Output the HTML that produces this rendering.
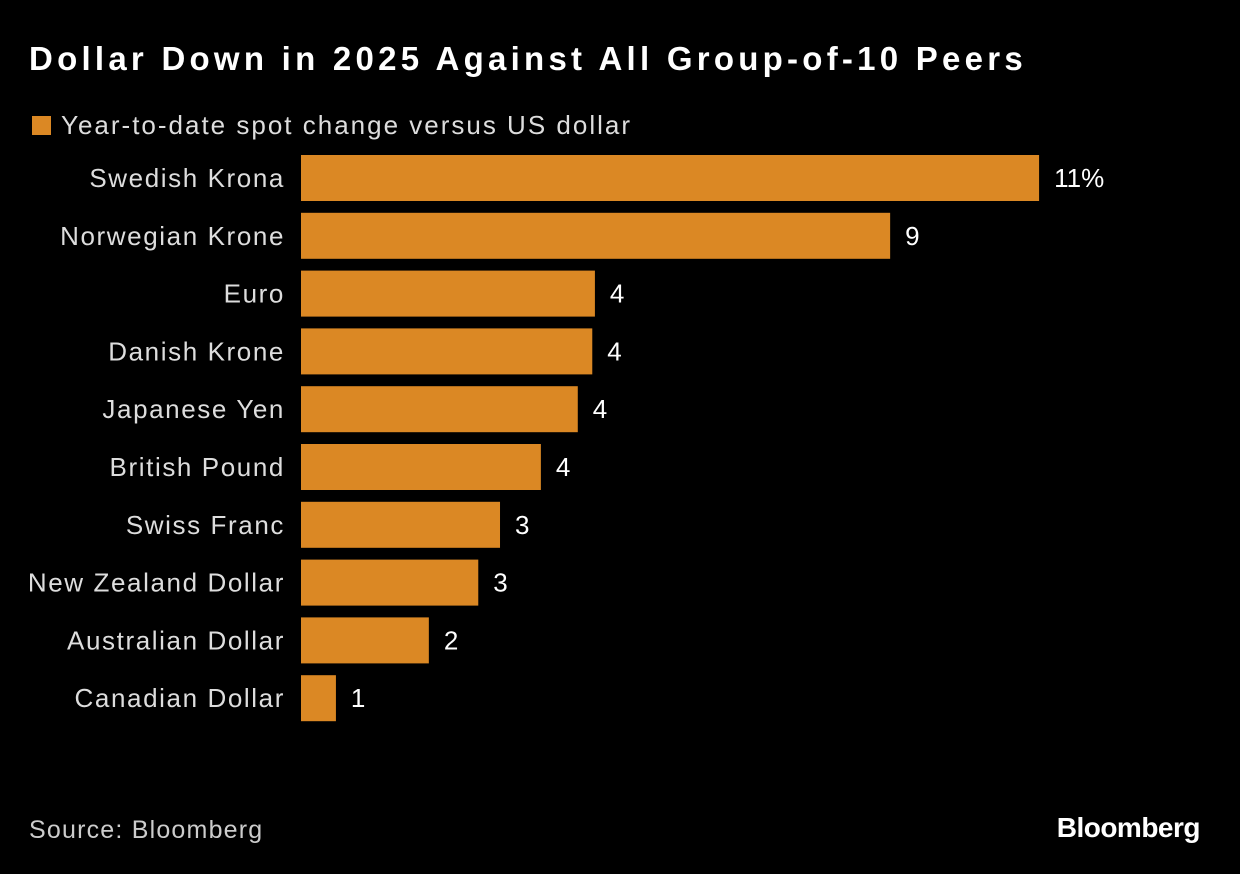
<!DOCTYPE html>
<html><head><meta charset="utf-8">
<style>
body{margin:0;background:#000;width:1240px;height:874px;overflow:hidden;font-family:"Liberation Sans",sans-serif;color:#fff;}
#title{position:absolute;left:29px;top:40px;font-size:33px;font-weight:bold;letter-spacing:4.25px;white-space:nowrap;}
#legend{position:absolute;left:32px;top:110px;font-size:26px;color:#ddd;letter-spacing:2px;white-space:nowrap;}
#legend span.sw{display:inline-block;width:19px;height:19px;background:#db8824;margin-right:10px;vertical-align:-1px;}
#source{position:absolute;left:29px;top:816px;font-size:25px;color:#ccc;letter-spacing:1.2px;}
#logo{position:absolute;right:40px;top:812px;font-size:28px;font-weight:bold;letter-spacing:-0.5px;}
svg{position:absolute;left:0;top:0;}
</style></head><body>
<div id="title">Dollar Down in 2025 Against All Group-of-10 Peers</div>
<div id="legend"><span class="sw"></span>Year-to-date spot change versus US dollar</div>
<svg id="chart" width="1240" height="874"></svg>
<div id="source">Source: Bloomberg</div>
<div id="logo">Bloomberg</div>
<script>
const categories=["Swedish Krona","Norwegian Krone","Euro","Danish Krone","Japanese Yen","British Pound","Swiss Franc","New Zealand Dollar","Australian Dollar","Canadian Dollar"];
const values=[11.2,8.94,4.46,4.42,4.2,3.64,3.02,2.69,1.94,0.53];
const valueLabels=["11%","9","4","4","4","4","3","3","2","1"];
const svg=document.getElementById('chart');
const NS="http://www.w3.org/2000/svg";
const x0=301,pxPerUnit=65.9,y0=155,pitch=57.8,bh=46;
const xs=v=>x0+v*pxPerUnit;
const ys=i=>y0+i*pitch;
categories.forEach((c,i)=>{
  const r=document.createElementNS(NS,'rect');
  r.setAttribute('x',x0);r.setAttribute('y',ys(i));
  r.setAttribute('width',xs(values[i])-x0);r.setAttribute('height',bh);
  r.setAttribute('fill','#db8824');
  
  
  svg.appendChild(r);
  const t=document.createElementNS(NS,'text');
  t.setAttribute('x',285);t.setAttribute('y',ys(i)+bh/2+9);
  t.setAttribute('text-anchor','end');t.setAttribute('font-size','26');t.setAttribute('fill','#ddd');
  t.setAttribute('letter-spacing','1.6');
  t.textContent=c;
  
  
  svg.appendChild(t);
  const v=document.createElementNS(NS,'text');
  v.setAttribute('x',xs(values[i])+15);v.setAttribute('y',ys(i)+bh/2+9);
  v.setAttribute('font-size','26');v.setAttribute('fill','#fff');
  v.textContent=valueLabels[i];
  
  
  svg.appendChild(v);
});
</script>
</body></html>
